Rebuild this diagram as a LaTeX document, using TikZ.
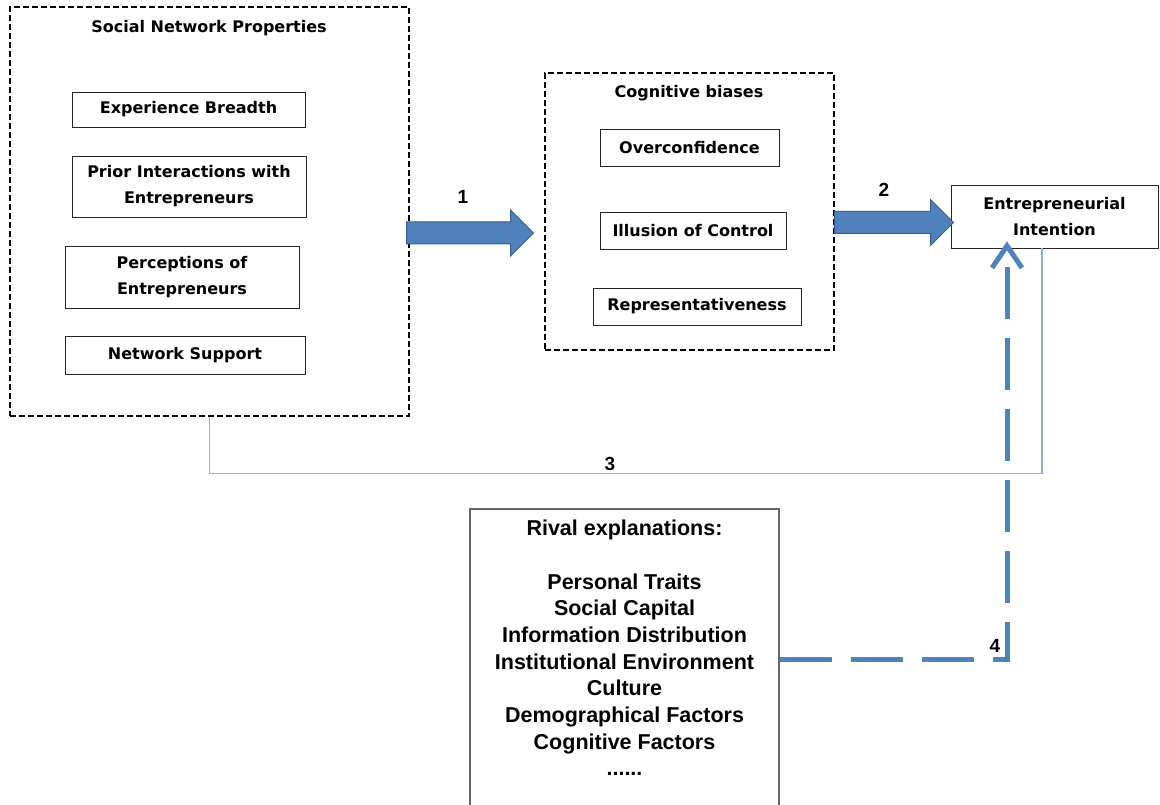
\documentclass[tikz,border=0pt]{standalone}
\usepackage{fontspec}
\usetikzlibrary{shapes.arrows,arrows.meta,calc}
\newfontfamily\boxfont{DejaVu Sans}
\newfontfamily\arialfont{Liberation Sans}
\definecolor{accent}{HTML}{4F81BD}
\definecolor{accentdark}{HTML}{385D8A}
\definecolor{pathlight}{HTML}{8DAEDB}
\begin{document}
\begin{tikzpicture}[x=1pt,y=-1pt,
  tbox/.style={draw=black!85, line width=0.9pt, fill=white, inner sep=0pt,
    align=center, font=\boxfont\bfseries\fontsize{16}{26}\selectfont},
  dbox/.style={draw=black, line width=1.1pt, dash pattern=on 6pt off 3pt, inner sep=0pt},
  ttl/.style={inner sep=0pt, font=\boxfont\bfseries\fontsize{16}{26}\selectfont},
  blockarrow/.style={single arrow, draw=accentdark, line width=1pt, fill=accent,
    inner xsep=0pt, inner ysep=10.5pt, single arrow tip angle=90,
    single arrow head extend=12pt, anchor=tail},
  num/.style={inner sep=0pt, font=\arialfont\bfseries\fontsize{19}{20}\selectfont},
  rivaltext/.style={inner sep=0pt, align=center,
    font=\arialfont\bfseries\fontsize{21.5}{26.7}\selectfont},
  thinpath/.style={draw=pathlight, line width=1.5pt},
  dashpath/.style={draw=accent, line width=5pt, dash pattern=on 52pt off 19pt,
    -{Straight Barb[length=22pt,width=30pt]}}]
\clip (0,0) rectangle (1160,805);
\useasboundingbox (0,0) rectangle (1160,805);

% social network properties
\node[dbox, minimum width=399pt, minimum height=409pt] (snp) at (209.5,211.5) {};
\node[ttl] (snpt) at (209,28) {Social Network Properties};
\node[tbox, minimum width=233pt, minimum height=35pt] (eb) at (188.5,109.5) {Experience Breadth};
\node[tbox, minimum width=234pt, minimum height=61pt] (pi) at (189,186.5) {Prior Interactions with\\Entrepreneurs};
\node[tbox, minimum width=234pt, minimum height=62pt] (pe) at (182,277) {Perceptions of\\Entrepreneurs};
\node[tbox, minimum width=240pt, minimum height=38pt] (ns) at (185,355) {Network Support};

% cognitive biases
\node[dbox, minimum width=289pt, minimum height=277pt] (cb) at (689.5,211.5) {};
\node[ttl] (cbt) at (689,93) {Cognitive biases};
\node[tbox, minimum width=179pt, minimum height=37pt] (oc) at (689.5,147.5) {Overconfidence};
\node[tbox, minimum width=186pt, minimum height=37pt] (ic) at (693,230.5) {Illusion of Control};
\node[tbox, minimum width=208pt, minimum height=37pt] (rep) at (697,306.5) {Representativeness};

% outcome
\node[tbox, minimum width=207pt, minimum height=63pt] (ei) at (1054.5,216.5) {Entrepreneurial\\Intention};

% rival explanations
\node[draw=black!60, line width=1.2pt, minimum width=309pt, minimum height=301pt, inner sep=0pt] (rival) at (624.5,659.5) {};
\node[rivaltext, anchor=north] (rivalt) at ($(rival.north)+(0,11.5)$) {Rival explanations:\\[26.7pt]
  Personal Traits\\Social Capital\\Information Distribution\\Institutional Environment\\
  Culture\\Demographical Factors\\Cognitive Factors\\......};

% path 1 and 2: block arrows
\node[blockarrow, minimum height=127pt] (a1) at (406,233) {};
\node[num] (n1) at (463,197) {1};
\node[blockarrow, minimum height=119pt] (a2) at (834,222.5) {};
\node[num] (n2) at (884,190) {2};

% path 3: direct effect
\draw[thinpath] (snp.south) -- ++(0,57) -| ([xshift=-12.5pt]ei.south);
\node[num] (n3) at (610,464) {3};

% path 4: rival explanations
\draw[dashpath, shorten >=-7pt] (rival.east) -| ([xshift=-47.5pt]ei.south);
\node[num] (n4) at (995,646) {4};
\end{tikzpicture}
\end{document}
